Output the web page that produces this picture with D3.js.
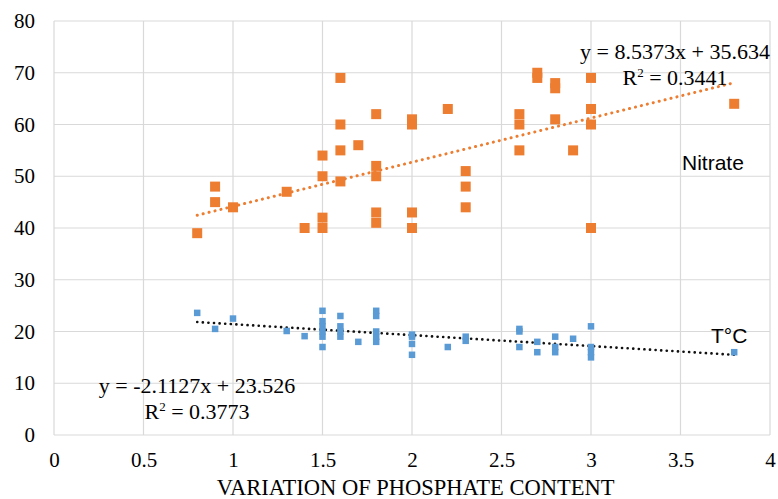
<!DOCTYPE html>
<html>
<head>
<meta charset="utf-8">
<script src="https://cdn.jsdelivr.net/npm/d3@7"></script>
<style>
  body { margin: 0; background: #fff; }
  svg { display: block; }
</style>
</head>
<body>
<svg width="778" height="499"></svg>
<script>
// nitrate (orange) and temperature (blue) against phosphate variation
let nitrateX = [0.8, 0.9, 0.9, 1.0, 1.3, 1.4, 1.5, 1.5, 1.5, 1.5, 1.6, 1.6, 1.6, 1.6, 1.7,
    1.8, 1.8, 1.8, 1.8, 1.8, 2.0, 2.0, 2.0, 2.0, 2.2, 2.3, 2.3, 2.3, 2.6, 2.6, 2.6,
    2.7, 2.7, 2.8, 2.8, 2.8, 2.9, 3.0, 3.0, 3.0, 3.0, 3.8];
let nitrateY = [39, 48, 45, 44, 47, 40, 54, 50, 42, 40, 69, 60, 55, 49, 56,
    62, 52, 50, 43, 41, 61, 60, 43, 40, 63, 51, 48, 44, 62, 60, 55,
    70, 69, 68, 67, 61, 55, 69, 63, 60, 40, 64];

let tempX = [0.8, 0.9, 1.0, 1.3, 1.4, 1.5, 1.5, 1.5, 1.5, 1.5, 1.5, 1.6, 1.6, 1.6, 1.6, 1.7,
    1.8, 1.8, 1.8, 1.8, 1.8, 2.0, 2.0, 2.0, 2.0, 2.2, 2.3, 2.3, 2.6, 2.6, 2.6,
    2.7, 2.7, 2.8, 2.8, 2.8, 2.9, 3.0, 3.0, 3.0, 3.0, 3.8];
let tempY = [23.6, 20.5, 22.5, 20.1, 19.1, 24, 22, 21, 20, 19, 17, 23, 21, 20, 19, 18,
    24, 23, 20, 19, 18, 19.4, 19, 17.6, 15.5, 17, 19, 18.2, 20.5, 20, 17,
    18, 16, 19, 17, 16, 18.6, 21, 17, 16, 15, 16];

// trendline coefficients as printed on the chart
let nitrateFit = { slope: 8.5373, icpt: 35.634, r2: "0.3441" };
let tempFit = { slope: -2.1127, icpt: 23.526, r2: "0.3773" };
let fitRange = [0.8, 3.8];

let xTicks = [0, 0.5, 1, 1.5, 2, 2.5, 3, 3.5, 4];
let yTicks = [0, 10, 20, 30, 40, 50, 60, 70, 80];

let serif = "'Liberation Serif', 'Times New Roman', serif";
let sans = "'Liberation Sans', Arial, sans-serif";

let svg = d3.select("svg");
let margin = { top: 21, right: 8, bottom: 64, left: 54 };
let width = +svg.attr("width") - margin.left - margin.right;
let height = +svg.attr("height") - margin.top - margin.bottom;

let g = svg.append("g")
    .attr("transform", "translate(" + margin.left + "," + margin.top + ")");

let x = d3.scaleLinear().domain([0, 4]).range([0, width]);
let y = d3.scaleLinear().domain([0, 80]).range([height, 0]);

// grid
g.append("g")
    .selectAll("line")
    .data(yTicks)
    .enter().append("line")
    .attr("x1", 0).attr("x2", width)
    .attr("y1", function(d) { return y(d); })
    .attr("y2", function(d) { return y(d); })
    .attr("stroke", "#d9d9d9").attr("stroke-width", 1.2);

g.append("g")
    .selectAll("line")
    .data(xTicks)
    .enter().append("line")
    .attr("y1", 0).attr("y2", height)
    .attr("x1", function(d) { return x(d); })
    .attr("x2", function(d) { return x(d); })
    .attr("stroke", "#d9d9d9").attr("stroke-width", 1.2);

// axes (labels only, lines come from the grid)
let xAxis = g.append("g")
    .attr("transform", "translate(0," + height + ")")
    .call(d3.axisBottom(x).tickValues(xTicks).tickSize(0).tickPadding(17)
        .tickFormat(function(d) { return String(d); }));
let yAxis = g.append("g")
    .call(d3.axisLeft(y).tickValues(yTicks).tickSize(0).tickPadding(19));

[xAxis, yAxis].forEach(function(a) {
    a.select(".domain").remove();
    a.selectAll("text")
        .style("font-family", serif)
        .style("font-size", "21px")
        .attr("fill", "#000");
});

svg.append("text")
    .attr("x", margin.left + x(2.02))
    .attr("y", 495)
    .attr("text-anchor", "middle")
    .style("font-family", serif)
    .style("font-size", "22.5px")
    .attr("fill", "#000")
    .text("VARIATION OF PHOSPHATE CONTENT");

// trendlines
function fitLine(fit) {
    return fitRange.map(function(v) { return [x(v), y(fit.slope * v + fit.icpt)]; });
}

g.append("path")
    .attr("d", d3.line()(fitLine(nitrateFit)))
    .attr("fill", "none")
    .attr("stroke", "#ED7D31")
    .attr("stroke-width", 3)
    .attr("stroke-linecap", "round")
    .attr("stroke-dasharray", "0.1 6");

g.append("path")
    .attr("d", d3.line()(fitLine(tempFit)))
    .attr("fill", "none")
    .attr("stroke", "#111")
    .attr("stroke-width", 2.6)
    .attr("stroke-linecap", "round")
    .attr("stroke-dasharray", "0.1 5.5");

// markers
let ns = 10;
g.append("g")
    .selectAll("rect")
    .data(d3.zip(nitrateX, nitrateY))
    .enter().append("rect")
    .attr("x", function(d) { return x(d[0]) - ns / 2; })
    .attr("y", function(d) { return y(d[1]) - ns / 2; })
    .attr("width", ns).attr("height", ns)
    .attr("fill", "#ED7D31");

let ts = 6.5;
g.append("g")
    .selectAll("rect")
    .data(d3.zip(tempX, tempY))
    .enter().append("rect")
    .attr("x", function(d) { return x(d[0]) - ts / 2; })
    .attr("y", function(d) { return y(d[1]) - ts / 2; })
    .attr("width", ts).attr("height", ts)
    .attr("fill", "#5B9BD5");

// equation labels
function eqText(px, py, fit) {
    let sign = fit.icpt < 0 ? " - " : " + ";
    svg.append("text")
        .attr("x", px).attr("y", py)
        .attr("text-anchor", "middle")
        .style("font-family", serif)
        .style("font-size", "22px")
        .attr("fill", "#000")
        .text("y = " + fit.slope + "x" + sign + Math.abs(fit.icpt));
    let r = svg.append("text")
        .attr("x", px).attr("y", py + 26)
        .attr("text-anchor", "middle")
        .style("font-family", serif)
        .style("font-size", "22px")
        .attr("fill", "#000");
    r.append("tspan").text("R");
    r.append("tspan").style("font-size", "13px").attr("dy", -8).text("2");
    r.append("tspan").attr("dy", 8).text(" = " + fit.r2);
}

eqText(675, 59, nitrateFit);
eqText(197, 393, tempFit);

svg.append("text")
    .attr("x", 682).attr("y", 170)
    .style("font-family", sans)
    .style("font-size", "21px")
    .attr("fill", "#000")
    .text("Nitrate");

svg.append("text")
    .attr("x", 711).attr("y", 343)
    .style("font-family", sans)
    .style("font-size", "21px")
    .attr("fill", "#000")
    .text("T°C");
</script>
</body>
</html>
